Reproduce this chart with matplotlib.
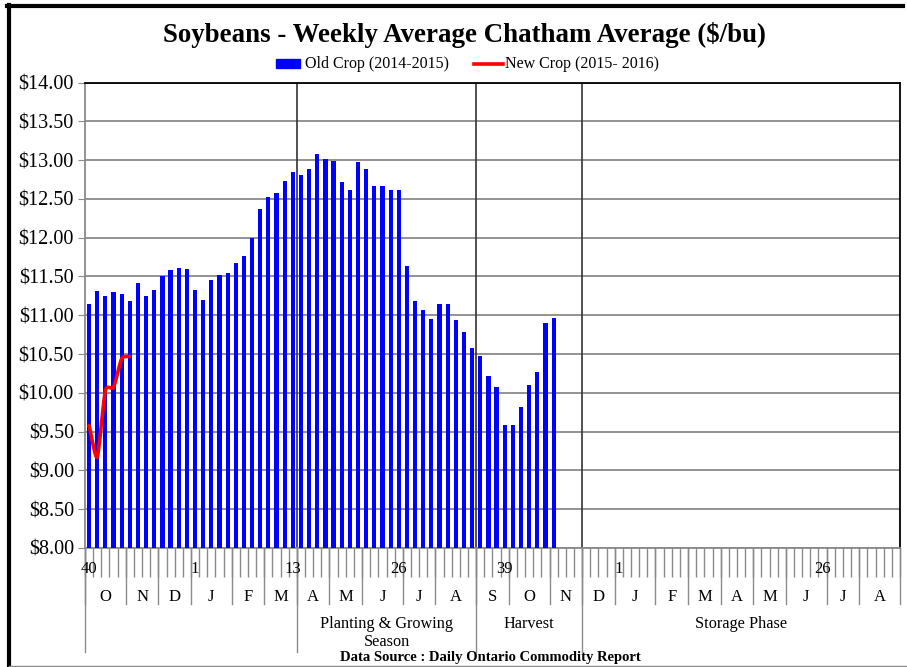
import numpy as np
import matplotlib
matplotlib.use("Agg")
import matplotlib.pyplot as plt
from matplotlib.lines import Line2D
from matplotlib.patches import Rectangle

plt.rcParams['font.family'] = ['Liberation Serif', 'DejaVu Serif']

# old crop weekly averages, week 40 2014 onward ($/bu)
old_crop = [11.15, 11.31, 11.25, 11.30, 11.27, 11.18, 11.42, 11.25, 11.32, 11.50,
            11.58, 11.61, 11.59, 11.33, 11.20, 11.46, 11.52, 11.54, 11.67, 11.77,
            11.99, 12.37, 12.53, 12.58, 12.73, 12.84, 12.81, 12.89, 13.08, 13.02,
            12.99, 12.72, 12.61, 12.98, 12.89, 12.67, 12.67, 12.61, 12.61, 11.64,
            11.19, 11.07, 10.95, 11.15, 11.14, 10.94, 10.78, 10.58, 10.48, 10.22,
            10.07, 9.58, 9.58, 9.82, 10.10, 10.27, 10.90, 10.97]
# new crop, week 40 2015 onward
new_crop = [9.58, 9.17, 10.03, 10.07, 10.44, 10.47]

N_CAT = 100
week_label_pos = [0, 13, 25, 38, 51, 65, 90]
week_label_txt = ['40', '1', '13', '26', '39', '1', '26']
month_bounds = [0, 5, 9, 13, 18, 22, 26, 30, 34, 39, 43, 48, 52, 57, 61, 65,
                70, 74, 78, 82, 86, 91, 95, 100]
month_names = ['O', 'N', 'D', 'J', 'F', 'M', 'A', 'M', 'J', 'J', 'A', 'S', 'O',
               'N', 'D', 'J', 'F', 'M', 'A', 'M', 'J', 'J', 'A']
phase_bounds = [0, 26, 48, 61, 100]
phase_names = ['', 'Planting & Growing\nSeason', 'Harvest', 'Storage Phase']


def smooth(xs, ys, s=0.3, n=20):
    # hermite spline through the points, a softer version of excel smoothing
    xs = np.asarray(xs, float)
    ys = np.asarray(ys, float)
    k = len(xs)
    mx = np.zeros(k)
    my = np.zeros(k)
    for i in range(k):
        a = max(i - 1, 0)
        b = min(i + 1, k - 1)
        mx[i] = s * (xs[b] - xs[a]) * (2 if a == i or b == i else 1)
        my[i] = s * (ys[b] - ys[a]) * (2 if a == i or b == i else 1)
    ox, oy = [], []
    t = np.linspace(0, 1, n, endpoint=False)
    h00 = 2 * t ** 3 - 3 * t ** 2 + 1
    h10 = t ** 3 - 2 * t ** 2 + t
    h01 = -2 * t ** 3 + 3 * t ** 2
    h11 = t ** 3 - t ** 2
    for i in range(k - 1):
        ox.extend(h00 * xs[i] + h10 * mx[i] + h01 * xs[i + 1] + h11 * mx[i + 1])
        oy.extend(h00 * ys[i] + h10 * my[i] + h01 * ys[i + 1] + h11 * my[i + 1])
    ox.append(xs[-1])
    oy.append(ys[-1])
    return np.array(ox), np.array(oy)


W, H = 907, 667
fig = plt.figure(figsize=(W / 100, H / 100), dpi=100)
L, R, T, B = 85, 900, 82.5, 548
ax = fig.add_axes([L / W, 1 - B / H, (R - L) / W, (B - T) / H])

x_old = np.arange(len(old_crop)) + 0.5
ax.bar(x_old, np.array(old_crop) - 8, bottom=8, width=0.52, color='#0000FF',
       zorder=3)
sx, sy = smooth(np.arange(len(new_crop)) + 0.5, new_crop)
ax.plot(sx, sy, color='#FF0000', lw=2.6, zorder=4, solid_capstyle='round')

ax.set_xlim(0, N_CAT)
ax.set_ylim(8, 14)
ax.set_yticks(np.arange(8, 14.01, 0.5))
ax.set_yticklabels(['$%.2f' % v for v in np.arange(8, 14.01, 0.5)], fontsize=14.5)
ax.yaxis.grid(True, color='#8a8a8a', lw=1.3, zorder=1)
ax.tick_params(axis='y', length=5, color='#8a8a8a', pad=3)
ax.set_xticks([])
ax.set_xticks(np.arange(0, N_CAT + 1), minor=True)
ax.tick_params(axis='x', which='minor', length=21, color='#8a8a8a', width=1)
for s in ['left', 'bottom']:
    ax.spines[s].set_color('#8a8a8a')
    ax.spines[s].set_linewidth(1.3)
for s in ['top', 'right']:
    ax.spines[s].set_color('black')
    ax.spines[s].set_linewidth(1.3)

# phase dividers inside the plot
for b in phase_bounds[1:-1]:
    ax.axvline(b, color='#333333', lw=1.2, zorder=2)

tr = ax.get_xaxis_transform()
ph = B - T


def ay(py):
    return -(py - B) / ph


for p, t in zip(week_label_pos, week_label_txt):
    ax.text(p + 0.5, ay(569), t, transform=tr, ha='center', va='center',
            fontsize=12)
for b in month_bounds:
    ax.plot([b, b], [0, ay(604)], transform=tr, color='#8a8a8a', lw=1,
            clip_on=False)
for i, m in enumerate(month_names):
    ax.text((month_bounds[i] + month_bounds[i + 1]) / 2, ay(597), m,
            transform=tr, ha='center', va='center', fontsize=12)
for b in phase_bounds[:-1]:
    ax.plot([b, b], [0, ay(652)], transform=tr, color='#8a8a8a', lw=1,
            clip_on=False)
for i, n in enumerate(phase_names):
    ax.text((phase_bounds[i] + phase_bounds[i + 1]) / 2, ay(616), n,
            transform=tr, ha='center', va='top', fontsize=11.7,
            linespacing=1.2)

fig.text(490 / W, 1 - 657 / H, 'Data Source : Daily Ontario Commodity Report',
         ha='center', va='center', fontsize=10.5, fontweight='bold')

# title and legend
fig.text(464 / W, 1 - 35 / H, 'Soybeans - Weekly Average Chatham Average ($/bu)',
         ha='center', va='center', fontsize=19.4, fontweight='bold')
fig.add_artist(Rectangle((276 / W, 1 - 68 / H), 24 / W, 9 / H,
                         transform=fig.transFigure, color='#0000FF'))
fig.text(305 / W, 1 - 64 / H, 'Old Crop (2014-2015)', ha='left', va='center',
         fontsize=11.5)
fig.add_artist(Line2D([474 / W, 503 / W], [1 - 64 / H, 1 - 64 / H],
                      transform=fig.transFigure, color='#FF0000', lw=2.6))
fig.text(505 / W, 1 - 64 / H, 'New Crop (2015- 2016)', ha='left', va='center',
         fontsize=11.5)

# chart border
fig.add_artist(Line2D([9 / W, 9 / W], [1 - 5 / H, 1 - 666 / H],
                      transform=fig.transFigure, color='black', lw=3))
fig.add_artist(Line2D([7 / W, 903 / W], [1 - 6 / H, 1 - 6 / H],
                      transform=fig.transFigure, color='black', lw=3))
fig.add_artist(Line2D([9 / W, 907 / W], [1 - 665.5 / H, 1 - 665.5 / H],
                      transform=fig.transFigure, color='#8a8a8a', lw=1))

fig.savefig('out.png', dpi=100)
